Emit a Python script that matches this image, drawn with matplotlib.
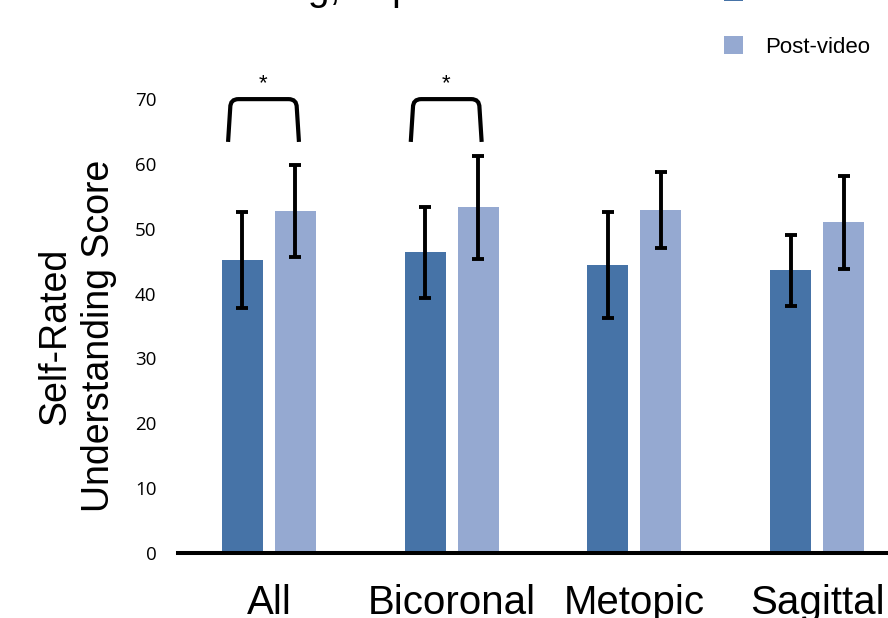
import numpy as np
import matplotlib
matplotlib.use("Agg")
import matplotlib.pyplot as plt
from matplotlib.path import Path
from matplotlib.patches import PathPatch

# data
groups = ["All", "Bicoronal", "Metopic", "Sagittal"]
pre_mean = [45.2, 46.4, 44.4, 43.6]
pre_err = [7.4, 7.0, 8.2, 5.5]
post_mean = [52.8, 53.3, 52.9, 51.0]
post_err = [7.1, 8.0, 5.9, 7.2]
series_names = ["Pre-video", "Post-video"]
sig_groups = [0, 1]          # groups with a significance bracket
yticks = [0, 10, 20, 30, 40, 50, 60, 70]

dark = "#4673A7"
light = "#95A9D1"

fig = plt.figure(figsize=(8.88, 6.18), dpi=100)
ax = fig.add_axes([178 / 888, 65 / 618, 1 - 178 / 888, 0.84])

x = np.arange(len(groups))
w = 0.224
off = 0.145
err_kw = dict(ecolor="black", elinewidth=2.8, capsize=4.3, capthick=2.8)
b1 = ax.bar(x - off, pre_mean, w, yerr=pre_err, color=dark, error_kw=err_kw,
            label=series_names[0])
b2 = ax.bar(x + off, post_mean, w, yerr=post_err, color=light, error_kw=err_kw,
            label=series_names[1])

ax.set_xlim(-0.498, 3.388)
ax.set_ylim(0, 518 / 6.47)

for s in ["left", "right", "top"]:
    ax.spines[s].set_visible(False)
ax.spines["bottom"].set_linewidth(2.9)
ax.spines["bottom"].set_color("black")

ax.set_yticks(yticks)
ax.set_yticklabels([str(t) for t in yticks], fontfamily="Open Sans", fontsize=13.5)
ax.tick_params(axis="y", length=0, pad=15.5)
ax.set_xticks(x)
ax.set_xticklabels(groups, fontfamily="Liberation Sans", fontsize=29)
ax.tick_params(axis="x", length=0, pad=22)

# significance brackets with rounded corners
ylow, ytop = 63.4, 70.0
rx, ry, sl = 0.045, 1.3, 0.012
for g in sig_groups:
    x0 = g - 0.224
    x1 = g + 0.164
    verts = [(x0, ylow), (x0 + sl, ytop - ry), (x0 + sl, ytop), (x0 + sl + rx, ytop),
             (x1 - sl - rx, ytop), (x1 - sl, ytop), (x1 - sl, ytop - ry), (x1, ylow)]
    codes = [Path.MOVETO, Path.LINETO, Path.CURVE3, Path.CURVE3,
             Path.LINETO, Path.CURVE3, Path.CURVE3, Path.LINETO]
    ax.add_patch(PathPatch(Path(verts, codes), fill=False, lw=3.0,
                           edgecolor="black", clip_on=False, capstyle="butt"))
    ax.text((x0 + x1) / 2, 72.4, "*", ha="center", va="center", fontsize=16,
            fontfamily="Liberation Sans")

fig.text(0.087, 0.456, "Self-Rated\nUnderstanding Score", rotation=90,
         ha="center", va="center", multialignment="center",
         fontfamily="Liberation Sans", fontsize=27, linespacing=1.3)

# title, mostly cut off by the top edge as in the reference
fig.text(0.345, 1.0, "Self-Rated Understanding, in pre- and Post-video",
         ha="center", va="baseline", fontfamily="Liberation Sans", fontsize=28)

leg = ax.legend(handles=[b1, b2], loc="center left",
                bbox_to_anchor=(724 / 888, 1 - 20.3 / 618),
                bbox_transform=fig.transFigure, frameon=False,
                prop={"family": "Liberation Sans", "size": 16},
                handlelength=0.86, handleheight=0.86, handletextpad=1.0,
                labelspacing=1.42, borderpad=0, borderaxespad=0)

fig.savefig("out.png", dpi=100)
